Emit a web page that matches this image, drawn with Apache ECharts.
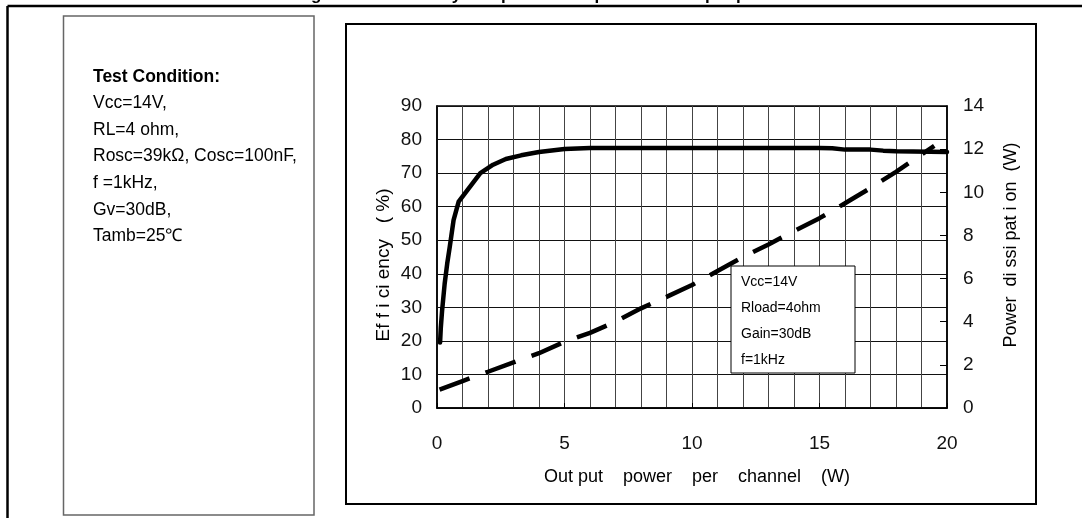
<!DOCTYPE html>
<html><head><meta charset="utf-8">
<script src="https://cdn.jsdelivr.net/npm/echarts@6/dist/echarts.min.js"></script>
<style>html,body{margin:0;padding:0;background:#fff}#c{width:1082px;height:518px}</style>
</head><body><div id="c"></div>
<script>
// ---- data ----
const titleText = 'Figure 14. Efficiency and power dissipation vs. output power';
const xAxisName = 'Out put    power    per    channel    (W)';
const leftAxisName = 'Ef f i ci ency   ( %)';
const rightAxisName = 'Power  di ssi pat i on  (W)';
const testConditions = ['Vcc=14V,', 'RL=4 ohm,', 'Rosc=39k\u03A9, Cosc=100nF,', 'f =1kHz,', 'Gv=30dB,', 'Tamb=25\u2103'];
const legendLines = ['Vcc=14V', 'Rload=4ohm', 'Gain=30dB', 'f=1kHz'];

// Efficiency (%) vs output power (W)
const effPower = [0.12, 0.15, 0.2, 0.3, 0.4, 0.5, 0.65, 0.85, 1.2, 1.7, 2.2, 2.7, 3.3, 4, 5, 6, 10, 15, 15.5, 16, 17, 17.5, 18, 20];
const effValues = [19.5, 24, 29, 37, 43, 48, 56, 61.5, 65, 70, 72.5, 74.2, 75.3, 76.3, 77.2, 77.5, 77.5, 77.5, 77.4, 77, 77, 76.7, 76.5, 76.3];

// Power dissipation (W) vs output power (W)
const pdPower = [0.1, 1, 2, 3, 4, 5, 6, 7, 8, 9, 10, 11, 12, 13, 14, 15, 16, 17, 18, 19, 19.5];
const pdValues = [0.85, 1.25, 1.68, 2.12, 2.54, 3.07, 3.48, 4.0, 4.62, 5.15, 5.7, 6.35, 7.0, 7.58, 8.2, 8.8, 9.49, 10.2, 10.95, 11.75, 12.15];

const FONT = 'Liberation Sans, Arial, sans-serif';

const effData = effPower.map((x, i) => [x, effValues[i]]);
const pdData = pdPower.map((x, i) => [x, pdValues[i]]);

const chart = echarts.init(document.getElementById('c'), null, {renderer: 'canvas'});

const graphics = [
  // outer frame
  {type: 'line', shape: {x1: 7.5, y1: 6, x2: 1082, y2: 6}, style: {stroke: '#000', lineWidth: 2.5}},
  {type: 'line', shape: {x1: 7.5, y1: 6, x2: 7.5, y2: 518}, style: {stroke: '#000', lineWidth: 2.5}},
  // title (clipped at the top)
  {type: 'text', x: 541, y: 4, style: {text: titleText, font: 'bold 17px ' + FONT, fill: '#000', align: 'center', verticalAlign: 'bottom'}},
  // left condition box
  {type: 'rect', shape: {x: 63.5, y: 16, width: 250.5, height: 499}, style: {fill: 'none', stroke: '#666', lineWidth: 1.5}},
  {type: 'text', x: 93, y: 77, style: {text: 'Test Condition:', font: 'bold 17.5px ' + FONT, fill: '#000', verticalAlign: 'middle'}},
  // plot frame
  {type: 'rect', shape: {x: 346, y: 24, width: 690, height: 480}, style: {fill: 'none', stroke: '#000', lineWidth: 2}},
  // inner legend box
  {type: 'rect', z: 10, shape: {x: 731, y: 266, width: 124, height: 107}, style: {fill: '#fff', stroke: '#000', lineWidth: 1}}
];
testConditions.forEach((t, i) => {
  graphics.push({type: 'text', x: 93, y: 103 + i * 26.7, style: {text: t, font: '17.5px ' + FONT, fill: '#000', verticalAlign: 'middle'}});
});
legendLines.forEach((t, i) => {
  graphics.push({type: 'text', z: 11, x: 741, y: 282 + i * 26, style: {text: t, font: '14px ' + FONT, fill: '#000', verticalAlign: 'middle'}});
});

chart.setOption({
  animation: false,
  backgroundColor: '#fff',
  grid: {left: 437, top: 106, right: 135, bottom: 110, show: true, borderColor: '#000', borderWidth: 1.5, backgroundColor: 'transparent'},
  xAxis: {
    type: 'value', min: 0, max: 20, interval: 5,
    name: xAxisName, nameLocation: 'middle', nameGap: 60,
    nameTextStyle: {fontFamily: FONT, fontSize: 18, color: '#000', padding: [0, 0, 0, 10]},
    axisLine: {show: true, onZero: false, lineStyle: {color: '#000', width: 1.5}},
    axisTick: {show: true, inside: true, length: 5, lineStyle: {color: '#000'}},
    axisLabel: {fontFamily: FONT, fontSize: 19, color: '#111', margin: 26},
    splitLine: {show: true, lineStyle: {color: '#444', width: 1}},
    minorTick: {show: false, splitNumber: 5},
    minorSplitLine: {show: true, lineStyle: {color: '#444', width: 1}}
  },
  yAxis: [{
    type: 'value', min: 0, max: 90, interval: 10, position: 'left',
    name: leftAxisName, nameLocation: 'middle', nameGap: 44, nameRotate: 90,
    nameTextStyle: {fontFamily: FONT, fontSize: 19, color: '#000', padding: [0, 16, 0, 0]},
    axisLine: {show: true, lineStyle: {color: '#000', width: 1.5}},
    axisTick: {show: false},
    axisLabel: {fontFamily: FONT, fontSize: 19, color: '#111', margin: 15},
    splitLine: {show: true, lineStyle: {color: '#111', width: 1}}
  }, {
    type: 'value', min: 0, max: 14, interval: 2, position: 'right',
    name: rightAxisName, nameLocation: 'middle', nameGap: 55, nameRotate: 90,
    nameTextStyle: {fontFamily: FONT, fontSize: 18, color: '#000', padding: [0, 0, 0, 24]},
    axisLine: {show: true, lineStyle: {color: '#000', width: 1.5}},
    axisTick: {show: true, inside: true, length: 7, lineStyle: {color: '#000'}},
    axisLabel: {fontFamily: FONT, fontSize: 19, color: '#111', margin: 16},
    splitLine: {show: false}
  }],
  series: [{
    name: 'Efficiency', type: 'line', yAxisIndex: 0, data: effData,
    showSymbol: false, smooth: false, z: 3,
    lineStyle: {color: '#000', width: 4.5, cap: 'round', join: 'round'}
  }, {
    name: 'Power dissipation', type: 'line', yAxisIndex: 1, data: pdData,
    showSymbol: false, smooth: false, z: 3,
    lineStyle: {color: '#000', width: 4.5, type: [32, 17], cap: 'butt'}
  }],
  graphic: graphics
});
</script></body></html>
